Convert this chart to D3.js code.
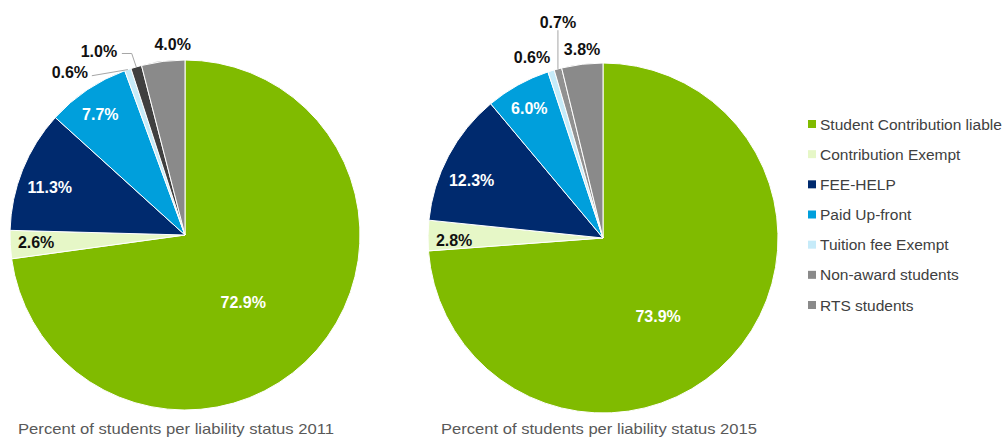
<!DOCTYPE html>
<html>
<head>
<meta charset="utf-8">
<script src="https://cdn.jsdelivr.net/npm/d3@7"></script>
<style>
  html, body { margin: 0; padding: 0; background: #fff; }
  svg { display: block; font-family: "Liberation Sans", Arial, sans-serif; }
</style>
</head>
<body>
<svg id="chart" width="1006" height="439"></svg>
<script>
// ---- data ----
const categories = ["Student Contribution liable", "Contribution Exempt", "FEE-HELP",
  "Paid Up-front", "Tuition fee Exempt", "Non-award students", "RTS students"];
const values2011 = [72.9, 2.6, 11.3, 7.7, 0.6, 1.0, 4.0];
const values2015 = [73.9, 2.8, 12.3, 6.0, 0.6, 0.7, 3.8];
const captions = ["Percent of students per liability status 2011", "Percent of students per liability status 2015"];

// ---- styles / layout ----
const legendColors = ["#80bb00", "#e6f7c7", "#002a6e", "#009fdc", "#c6ebf9", "#8a8a8a", "#8a8a8a"];
const colors2011 = ["#80bb00", "#e6f7c7", "#002a6e", "#009fdc", "#c6ebf9", "#3f3f3f", "#8a8a8a"];
const colors2015 = ["#80bb00", "#e6f7c7", "#002a6e", "#009fdc", "#c6ebf9", "#919191", "#8a8a8a"];
const labelWhite = [true, false, true, true, false, false, false];
// label placement: radius factor and angular nudge (deg) per slice
const labelR2011 = [0.511, 0.852, 0.819, 0.842, 1.137, 1.161, 1.093];
const labelA2011 = [8.3, 0.2, -2.5, -1.1, -16.3, -8.9, 3.5];
const labelR2015 = [0.55, 0.851, 0.819, 0.852, 1.109, 1.257, 1.086];
const labelA2015 = [12.2, -1.9, -4.4, -0.5, -4.2, 3.1, 0.5];
// leader types: null, "right" (from right end of label), "rightElbow", "below"
const leaders2011 = [null, null, null, null, "right", "rightElbow", null];
const leaders2015 = [null, null, null, null, null, "below", null];

const pies = [
  { values: values2011, colors: colors2011, lr: labelR2011, la: labelA2011, leaders: leaders2011, cx: 185, cy: 235, caption: captions[0], capX: 18 },
  { values: values2015, colors: colors2015, lr: labelR2015, la: labelA2015, leaders: leaders2015, cx: 603, cy: 238, caption: captions[1], capX: 441 }
];
const R = 175;

const svg = d3.select("#chart");
const pie = d3.pie().sort(null).value(d => d);
const arc = d3.arc().innerRadius(0).outerRadius(R);

pies.forEach(p => {
  const g = svg.append("g").attr("transform", `translate(${p.cx},${p.cy})`);
  const arcs = pie(p.values);
  g.selectAll("path.slice").data(arcs).join("path")
    .attr("class", "slice")
    .attr("d", arc)
    .attr("fill", (d, i) => p.colors[i])
    .attr("stroke", "#ffffff")
    .attr("stroke-width", 1);

  arcs.forEach((d, i) => {
    const mid = (d.startAngle + d.endAngle) / 2;
    const a = mid + p.la[i] * Math.PI / 180;
    const r = p.lr[i] * R;
    const x = r * Math.sin(a), y = -r * Math.cos(a);
    const txt = d3.format(".1f")(p.values[i]) + "%";
    g.append("text")
      .attr("x", x).attr("y", y)
      .attr("text-anchor", "middle")
      .attr("dominant-baseline", "central")
      .attr("font-size", 16)
      .attr("font-weight", "bold")
      .attr("fill", labelWhite[i] ? "#ffffff" : "#111111")
      .text(txt);
    const ex = R * Math.sin(mid), ey = -R * Math.cos(mid);
    const lt = p.leaders[i];
    if (lt) {
      let pts;
      if (lt === "right") pts = [[x + 22, y + 3], [ex, ey]];
      else if (lt === "rightElbow") pts = [[x + 23, y + 2.5], [ex - 4.5, y + 2.5], [ex, ey]];
      else pts = [[x, y + 7.5], [ex, ey]];
      g.append("path")
        .attr("d", d3.line()(pts))
        .attr("fill", "none")
        .attr("stroke", "#a6a6a6")
        .attr("stroke-width", 1);
    }
  });

  svg.append("text")
    .attr("x", p.capX).attr("y", 434)
    .attr("font-size", 14.5)
    .attr("fill", "#595959")
    .attr("textLength", 316)
    .attr("lengthAdjust", "spacingAndGlyphs")
    .text(p.caption);
});

// legend
const legendY = d3.scalePoint().domain(categories).range([124, 305]);
const lg = svg.append("g");
categories.forEach((c, i) => {
  const y = legendY(c);
  lg.append("rect").attr("x", 808).attr("y", y - 4).attr("width", 8).attr("height", 8)
    .attr("fill", legendColors[i]);
  lg.append("text").attr("x", 820).attr("y", y)
    .attr("dominant-baseline", "central")
    .attr("font-size", 15.5)
    .attr("fill", "#404040")
    .text(c);
});
</script>
</body>
</html>
